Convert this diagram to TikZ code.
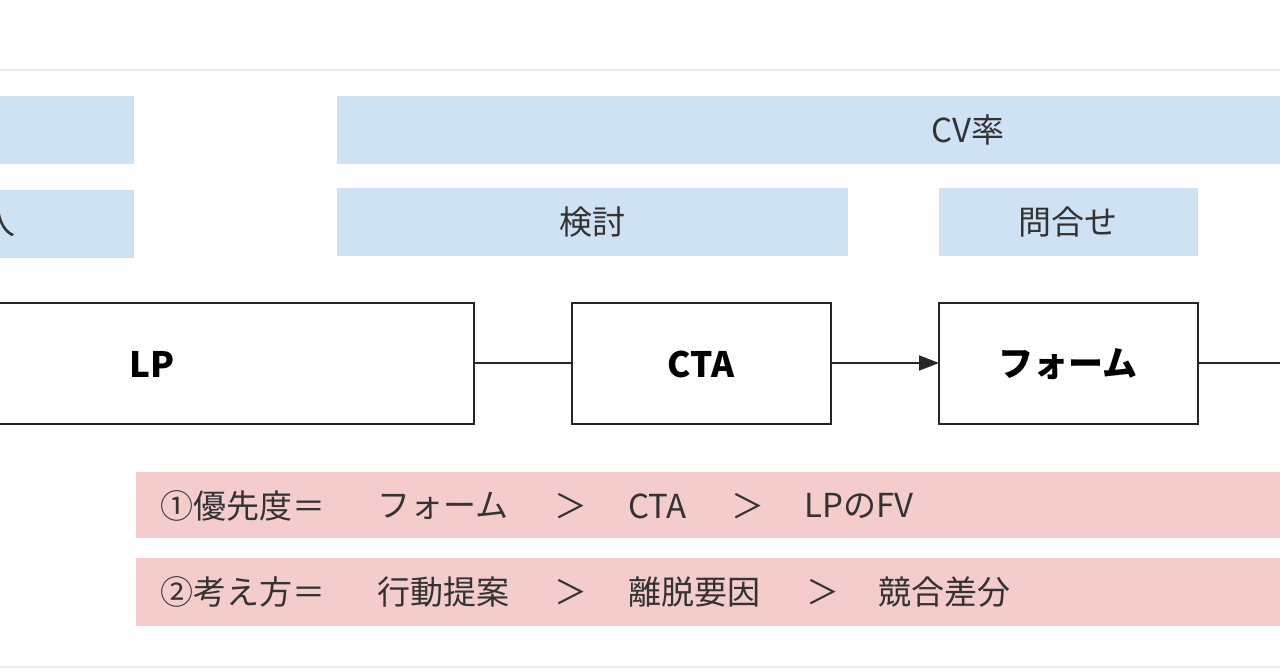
\documentclass[tikz,border=0pt]{standalone}
\usepackage{fontspec}
\setmainfont{Noto Sans CJK JP}
\usetikzlibrary{arrows.meta}
\definecolor{bluebox}{HTML}{CFE2F3}
\definecolor{pinkbox}{HTML}{F4CCCC}
\definecolor{txt}{HTML}{333333}
\tikzset{
  x=1pt,y=-1pt,
  band/.style={fill=bluebox,draw=none},
  pband/.style={fill=pinkbox,draw=none},
  lab/.style={text=txt,font=\fontsize{33}{36}\selectfont,inner sep=0pt},
  plab/.style={lab,anchor=west},
  stage/.style={draw=black!85,line width=2.6pt,fill=white},
  slab/.style={font=\fontsize{35}{38}\selectfont\bfseries},
  conn/.style={draw=black!85,line width=1.8pt}
}
\begin{document}
\begin{tikzpicture}
\useasboundingbox (0,0) rectangle (1280,670);
\clip (0,0) rectangle (1280,670);
\fill[white] (0,0) rectangle (1280,670);
\draw[black!8,line width=1.5pt] (0,70) -- (1280,70);
\draw[black!8,line width=1.5pt] (0,667) -- (1280,667);
% blue bands
\fill[band] (-10,96) rectangle (134,164);
\fill[band] (-10,190) rectangle (134,258);
\node[lab] (hito) at (-1,222) {人};
\fill[band] (337,96) rectangle (1290,164);
\node[lab] (cv) at (968,130) {CV率};
\fill[band] (337,188) rectangle (848,256);
\node[lab] (kento) at (592,222) {検討};
\fill[band] (939,188) rectangle (1198,256);
\node[lab] (toi) at (1068,222) {問合せ};
% stages
\draw[stage] (-10,303) rectangle (474,424);
\node[slab] (lp) at (152,364) {LP};
\coordinate (lpE) at (474,363);
\draw[stage] (572,303) rectangle (831,424);
\node[slab] (cta) at (701,364) {CTA};
\coordinate (ctaW) at (572,363);
\coordinate (ctaE) at (831,363);
\draw[stage] (939,303) rectangle (1198,424);
\node[slab] (form) at (1068,364) {フォーム};
\coordinate (formW) at (939,363);
\coordinate (formE) at (1198,363);
\coordinate (rightEnd) at (1290,363);
\draw[conn] (lpE) -- (ctaW);
\draw[conn,-{Triangle[length=20pt,width=15pt]}] (ctaE) -- (formW);
\draw[conn] (formE) -- (rightEnd);
% pink bands
\fill[pband] (136,472) rectangle (1290,538);
\node[plab] (p1a) at (160,506) {①優先度＝};
\node[plab] (p1b) at (377,506) {フォーム};
\node[plab] (p1c) at (554,506) {＞};
\node[plab] (p1d) at (628,506) {CTA};
\node[plab] (p1e) at (731,506) {＞};
\node[plab] (p1f) at (804,506) {LPのFV};
\fill[pband] (136,558) rectangle (1290,626);
\node[plab] (p2a) at (160,592) {②考え方＝};
\node[plab] (p2b) at (377,592) {行動提案};
\node[plab] (p2c) at (554,592) {＞};
\node[plab] (p2d) at (628,592) {離脱要因};
\node[plab] (p2e) at (806,592) {＞};
\node[plab] (p2f) at (878,592) {競合差分};
\end{tikzpicture}
\end{document}
